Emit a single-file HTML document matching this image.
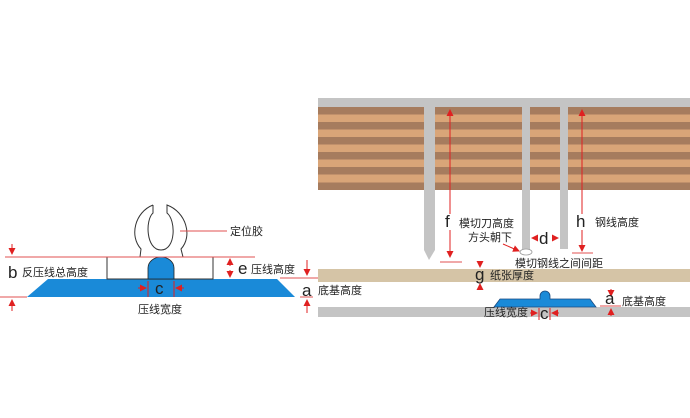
<!DOCTYPE html>
<html><head><meta charset="utf-8"><style>
body{margin:0;background:#fff;}
svg{display:block;}
text{font-family:"Liberation Sans","Noto Sans CJK SC",sans-serif;fill:#222;}
.cn{font-size:11px;}
.big{font-size:17px;}
</style></head><body>
<svg width="690" height="418" viewBox="0 0 690 418" xmlns="http://www.w3.org/2000/svg">
<defs>
<marker id="ar" markerWidth="7" markerHeight="7" refX="6" refY="3.5" orient="auto" markerUnits="userSpaceOnUse"><path d="M0,0 L7,3.5 L0,7 z" fill="#e02020"/></marker>
</defs>
<!-- LEFT DIAGRAM -->
<path d="M48,279 L277,279 L295,297 L27,297 Z" fill="#1a8ad8"/>
<rect x="107" y="257" width="106" height="22" fill="#fff" stroke="#333" stroke-width="1"/>
<path d="M148,279 L148,268 A13,11 0 0 1 174,268 L174,279 Z" fill="#1a8ad8" stroke="#222" stroke-width="0.8"/>
<path d="M153,205 L153,213 C145,220 146,250 161,250 C176,250 176,220 167,213 L167,205 C186,212 193,236 181,249 L183,257 M140,257 L141,249 C129,236 135,212 153,205" fill="none" stroke="#333" stroke-width="1"/>
<line x1="5" y1="257" x2="255" y2="257" stroke="#e05050" stroke-width="1"/>
<line x1="180" y1="231" x2="227" y2="231" stroke="#e05050" stroke-width="1"/>
<text x="230" y="235" class="cn">定位胶</text>
<line x1="12" y1="244" x2="12" y2="254" stroke="#e02020" marker-end="url(#ar)"/>
<line x1="12" y1="311" x2="12" y2="300" stroke="#e02020" marker-end="url(#ar)"/>
<line x1="0" y1="297" x2="27" y2="297" stroke="#e05050"/>
<text x="8" y="278" class="big">b</text><text x="22" y="276" class="cn">反压线总高度</text>
<line x1="230" y1="266" x2="230" y2="259" stroke="#e02020" marker-end="url(#ar)"/>
<line x1="230" y1="270" x2="230" y2="277" stroke="#e02020" marker-end="url(#ar)"/>
<text x="238" y="274" class="big">e</text><text x="251" y="273" class="cn">压线高度</text>
<line x1="148" y1="281" x2="148" y2="297" stroke="#e02020"/><line x1="174" y1="281" x2="174" y2="297" stroke="#e02020"/>
<line x1="138" y1="288" x2="146" y2="288" stroke="#e02020" marker-end="url(#ar)"/>
<line x1="184" y1="288" x2="176" y2="288" stroke="#e02020" marker-end="url(#ar)"/>
<text x="155" y="294" class="big">c</text>
<text x="138" y="313" class="cn">压线宽度</text>
<line x1="280" y1="278" x2="320" y2="278" stroke="#e05050"/>
<line x1="300" y1="297" x2="313" y2="297" stroke="#e05050"/>
<line x1="307" y1="260" x2="307" y2="275" stroke="#e02020" marker-end="url(#ar)"/>
<line x1="307" y1="313" x2="307" y2="300" stroke="#e02020" marker-end="url(#ar)"/>
<text x="302" y="296" class="big">a</text>
<text x="318" y="294" class="cn">底基高度</text>
<!-- RIGHT DIAGRAM -->
<rect x="318" y="98" width="372" height="9" fill="#c4c4c4"/>
<rect x="318" y="107" width="372" height="83" fill="#d9a578"/>
<g fill="#a67c5e">
<rect x="318" y="107" width="372" height="7.5"/><rect x="318" y="122" width="372" height="7.5"/><rect x="318" y="137" width="372" height="7.5"/><rect x="318" y="152" width="372" height="7.5"/><rect x="318" y="167" width="372" height="7.5"/><rect x="318" y="182.5" width="372" height="7.5"/>
</g>
<path d="M424,98 L435,98 L435,250 L429,260 L424,250 Z" fill="#c4c4c4"/>
<rect x="522" y="98" width="8" height="152" fill="#c4c4c4"/>
<rect x="560" y="98" width="8" height="151" fill="#c4c4c4"/>
<ellipse cx="526" cy="252" rx="6" ry="3" fill="#fff" stroke="#999" stroke-width="0.8"/>
<rect x="318" y="269" width="372" height="13" fill="#d5c4a6"/>
<rect x="318" y="307" width="372" height="10" fill="#c4c4c4"/>
<path d="M500,299 L540,299 L540,296 A4,4 0 0 1 550,296 L550,299 L590,299 L596,307 L494,307 Z" fill="#1a8ad8" stroke="#1a4a80" stroke-width="0.8"/>
<line x1="450" y1="214" x2="450" y2="110" stroke="#e02020" marker-end="url(#ar)"/>
<line x1="450" y1="230" x2="450" y2="257" stroke="#e02020" marker-end="url(#ar)"/>
<line x1="440" y1="262" x2="462" y2="262" stroke="#e05050"/>
<text x="445" y="227" class="big">f</text>
<text x="459" y="227" class="cn">模切刀高度</text>
<text x="468" y="241" class="cn">方头朝下</text>
<line x1="503" y1="244" x2="519" y2="251" stroke="#e02020" marker-end="url(#ar)"/>
<line x1="582" y1="214" x2="582" y2="110" stroke="#e02020" marker-end="url(#ar)"/>
<line x1="582" y1="230" x2="582" y2="251" stroke="#e02020" marker-end="url(#ar)"/>
<line x1="572" y1="253" x2="593" y2="253" stroke="#e05050"/>
<text x="576" y="227" class="big">h</text>
<text x="595" y="226" class="cn">钢线高度</text>
<line x1="538" y1="238" x2="532" y2="238" stroke="#e02020" marker-end="url(#ar)"/>
<line x1="552" y1="238" x2="558" y2="238" stroke="#e02020" marker-end="url(#ar)"/>
<text x="539" y="244" class="big">d</text>
<text x="515" y="267" class="cn">模切钢线之间间距</text>
<line x1="480" y1="261" x2="480" y2="267" stroke="#e02020" marker-end="url(#ar)"/>
<line x1="480" y1="290" x2="480" y2="284" stroke="#e02020" marker-end="url(#ar)"/>
<text x="475" y="280" class="big">g</text>
<text x="490" y="279" class="cn">纸张厚度</text>
<line x1="611" y1="289" x2="611" y2="296" stroke="#e02020" marker-end="url(#ar)"/>
<line x1="611" y1="316" x2="611" y2="309" stroke="#e02020" marker-end="url(#ar)"/>
<line x1="600" y1="306" x2="621" y2="306" stroke="#e05050"/>
<text x="605" y="304" class="big">a</text>
<text x="622" y="305" class="cn">底基高度</text>
<text x="484" y="316" class="cn">压线宽度</text>
<line x1="539" y1="308" x2="539" y2="320" stroke="#e02020"/><line x1="550" y1="308" x2="550" y2="320" stroke="#e02020"/>
<line x1="530" y1="313" x2="537" y2="313" stroke="#e02020" marker-end="url(#ar)"/>
<line x1="559" y1="313" x2="552" y2="313" stroke="#e02020" marker-end="url(#ar)"/>
<text x="540" y="319" class="big">c</text>
</svg>
</body></html>
